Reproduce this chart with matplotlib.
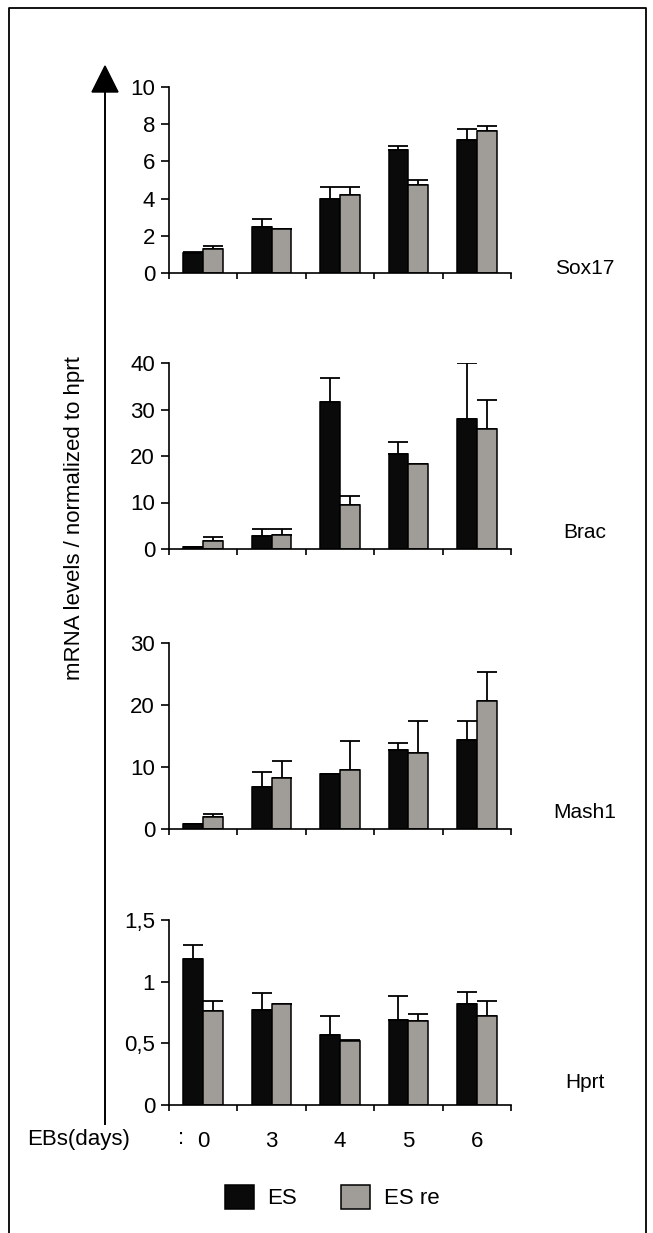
import matplotlib
matplotlib.use("Agg")
import matplotlib.pyplot as plt
from matplotlib.patches import Patch, Polygon
import numpy as np

plt.rcParams['font.family'] = ['Liberation Sans', 'DejaVu Sans']

# ---------------- data ----------------
days = ['0', '3', '4', '5', '6']
genes = ['Sox17', 'Brac', 'Mash1', 'Hprt']

es_vals = {
    'Sox17': [1.1, 2.5, 4.0, 6.6, 7.15],
    'Brac':  [0.5, 2.7, 31.6, 20.4, 27.9],
    'Mash1': [0.85, 6.8, 8.85, 12.7, 14.3],
    'Hprt':  [1.18, 0.77, 0.57, 0.69, 0.82],
}
es_err = {
    'Sox17': [0.05, 0.4, 0.6, 0.25, 0.6],
    'Brac':  [0.0, 1.5, 5.2, 2.6, 12.0],
    'Mash1': [0.0, 2.35, 0.0, 1.15, 3.1],
    'Hprt':  [0.12, 0.14, 0.15, 0.19, 0.10],
}
esre_vals = {
    'Sox17': [1.27, 2.35, 4.2, 4.73, 7.63],
    'Brac':  [1.65, 3.1, 9.4, 18.3, 25.7],
    'Mash1': [1.95, 8.3, 9.45, 12.25, 20.6],
    'Hprt':  [0.76, 0.82, 0.52, 0.68, 0.72],
}
esre_err = {
    'Sox17': [0.16, 0.0, 0.4, 0.27, 0.27],
    'Brac':  [0.95, 1.1, 2.1, 0.0, 6.3],
    'Mash1': [0.45, 2.7, 4.8, 5.15, 4.7],
    'Hprt':  [0.08, 0.0, 0.01, 0.06, 0.12],
}
yticks = {
    'Sox17': [0, 2, 4, 6, 8, 10],
    'Brac':  [0, 10, 20, 30, 40],
    'Mash1': [0, 10, 20, 30],
    'Hprt':  [0, 0.5, 1.0, 1.5],
}
ytick_labels = {
    'Sox17': ['0', '2', '4', '6', '8', '10'],
    'Brac':  ['0', '10', '20', '30', '40'],
    'Mash1': ['0', '10', '20', '30'],
    'Hprt':  ['0', '0,5', '1', '1,5'],
}
series_names = ['ES', 'ES re']

# ---------------- layout ----------------
W, H = 653, 1233
fig = plt.figure(figsize=(W / 100, H / 100), dpi=100)
fig.patch.set_facecolor('white')

BLACK = '#0a0a0a'
GRAY = '#a09d98'
FS = 16

panels = {
    'Sox17': (87, 273),
    'Brac': (363, 549),
    'Mash1': (643, 829),
    'Hprt': (920, 1105),
}
label_y = {'Sox17': 268, 'Brac': 533, 'Mash1': 812, 'Hprt': 1083}
x0_px, x1_px = 169, 511

# overlay for frame & arrow
ov = fig.add_axes([0, 0, 1, 1], zorder=0)
ov.set_xlim(0, W)
ov.set_ylim(H, 0)
ov.axis('off')
ov.plot([9, 9, 646, 646], [H, 8, 8, H], color='black', lw=1.3)
ov.plot([105, 105], [1124, 88], color='black', lw=1.4)
ov.add_patch(Polygon([[92, 92], [118, 92], [105, 66]], closed=True,
                     facecolor='black', edgecolor='black'))

x = np.arange(len(days)) + 0.5
bw = 0.29
lw_px = 1.1

for g in genes:
    top, bot = panels[g]
    ax = fig.add_axes([x0_px / W, 1 - bot / H, (x1_px - x0_px) / W, (bot - top) / H],
                      zorder=2)
    ax.patch.set_alpha(0)
    ymax = yticks[g][-1]
    ax.bar(x - bw / 2, es_vals[g], bw, color=BLACK, edgecolor='black', lw=lw_px,
           zorder=3)
    ax.bar(x + bw / 2, esre_vals[g], bw, color=GRAY, edgecolor='black', lw=lw_px,
           zorder=3)
    ax.errorbar(x - bw / 2, es_vals[g], yerr=[np.zeros(5), es_err[g]], fmt='none',
                ecolor='black', elinewidth=1.3, capsize=7.2, capthick=1.3, zorder=2)
    ax.errorbar(x + bw / 2, esre_vals[g], yerr=[np.zeros(5), esre_err[g]], fmt='none',
                ecolor='black', elinewidth=1.3, capsize=7.2, capthick=1.3, zorder=2)
    ax.set_xlim(0, len(days))
    ax.set_ylim(0, ymax)
    for s in ['top', 'right']:
        ax.spines[s].set_visible(False)
    for s in ['left', 'bottom']:
        ax.spines[s].set_linewidth(1.2)
        ax.spines[s].set_zorder(4)
    ax.set_yticks(yticks[g])
    ax.set_yticklabels(ytick_labels[g], fontsize=FS)
    ax.tick_params(axis='y', direction='out', length=6, width=1.2, pad=4)
    ax.set_xticks(np.arange(len(days) + 1), minor=False)
    ax.tick_params(axis='x', direction='out', length=4, width=1.2, labelbottom=False)
    if g == 'Hprt':
        ax.set_xticks(x, minor=True)
        ax.set_xticklabels(days, minor=True, fontsize=FS)
        ax.tick_params(axis='x', which='minor', length=0, pad=19)
    fig.text(585 / W, 1 - label_y[g] / H, g, fontsize=15, ha='center', va='center')

fig.text(75 / W, 1 - 518 / H, 'mRNA levels / normalized to hprt', rotation=90,
         fontsize=16, ha='center', va='center')
fig.text(27 / W, 1 - 1139 / H, 'EBs(days)', fontsize=FS, ha='left', va='center')
fig.text(181 / W, 1 - 1139 / H, ':', fontsize=FS, ha='center', va='center')

handles = [Patch(facecolor=BLACK, edgecolor='black', lw=1.1),
           Patch(facecolor=GRAY, edgecolor='black', lw=1.1)]
fig.legend(handles, series_names, loc='center', bbox_to_anchor=(332 / W, 1 - 1197 / H),
           ncol=2, frameon=False, fontsize=16, handlelength=1.3, handleheight=1.3,
           handletextpad=0.6, columnspacing=2.0)

fig.savefig('out.png', dpi=100, facecolor='white')
